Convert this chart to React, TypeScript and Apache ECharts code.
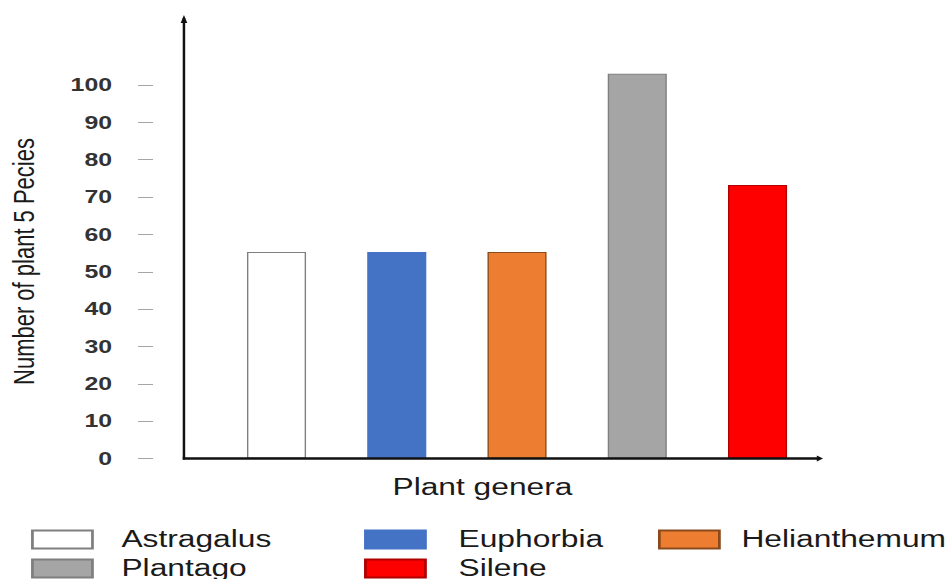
import React, { useEffect, useRef } from "react";
import * as echarts from "echarts";

// Plant genera and the number of species counted for each
const categories = ["Astragalus", "Euphorbia", "Helianthemum", "Plantago", "Silene"];
const speciesCounts = [55.3, 55.3, 55.3, 103, 73.2];
const fillColors = ["#ffffff", "#4472c4", "#ed7d31", "#a5a5a5", "#ff0000"];
const borderColors = ["#7f7f7f", "#4472c4", "#8c4a1c", "#7f7f7f", "#b00000"];
const yMax = 100;
const yInterval = 10;

// legend columns (indices into categories)
const legendColumns = [[0, 3], [1, 4], [2]];
const legendLefts = [22.5, 263.8, 476.8];
const legendTextPads = [16, 19, 11];

const CHART_W = 686;
const CHART_H = 579;
const STRETCH = 1.38;

export default function App() {
  const ref = useRef<HTMLDivElement>(null);

  useEffect(() => {
    if (!ref.current) return;
    const chart = echarts.init(ref.current, null, { renderer: "svg" });

    const series = categories.map((name, i) => ({
      name,
      type: "bar",
      stack: "genera",
      barWidth: 42.8,
      clip: false,
      itemStyle: {
        color: fillColors[i],
        borderColor: borderColors[i],
        borderWidth: 1,
      },
      data: categories.map((_, j) => (j === i ? speciesCounts[i] : "-")),
    }));

    const legends = legendColumns.map((col, k) => ({
      orient: "vertical",
      left: legendLefts[k],
      top: 528,
      width: 200,
      height: 120,
      padding: 0,
      itemWidth: 43.5,
      itemHeight: 18,
      itemGap: 6,
      icon: "rect",
      selectedMode: false,
      data: col.map((i) => categories[i]),
      textStyle: {
        fontFamily: "Liberation Sans, Arial, sans-serif",
        fontSize: 23,
        lineHeight: 18,
        color: "#1a1a1a",
        padding: [0, 0, 0, legendTextPads[k]],
      },
    }));

    const axisX = 133.3;
    const axisY = 458.5;
    const xEnd = 596.4;

    chart.setOption({
      animation: false,
      backgroundColor: "#ffffff",
      grid: { left: 156.8, right: 93.5, top: 85, bottom: CHART_H - axisY },
      xAxis: {
        type: "category",
        data: categories,
        axisLine: { show: false },
        axisTick: { show: false },
        axisLabel: { show: false },
        splitLine: { show: false },
      },
      yAxis: {
        type: "value",
        min: 0,
        max: yMax,
        interval: yInterval,
        offset: 45.9,
        axisLine: { show: false },
        axisTick: { show: true, length: 10.9, lineStyle: { color: "#a6a6a6", width: 1 } },
        axisLabel: {
          margin: 29.7,
          fontFamily: "Liberation Sans, Arial, sans-serif",
          fontSize: 18,
          fontWeight: "bold",
          color: "#333333",
        },
        splitLine: { show: false },
      },
      legend: legends,
      series,
      graphic: [
        {
          type: "line",
          shape: { x1: axisX, y1: 18, x2: axisX, y2: axisY + 1 },
          style: { stroke: "#111111", lineWidth: 1.8 },
          z: 10,
        },
        {
          type: "polygon",
          shape: { points: [[axisX - 2.4, 23], [axisX + 2.4, 23], [axisX, 15]] },
          style: { fill: "#111111" },
          z: 10,
        },
        {
          type: "line",
          shape: { x1: axisX - 0.9, y1: axisY, x2: xEnd - 3, y2: axisY },
          style: { stroke: "#111111", lineWidth: 2.5 },
          z: 10,
        },
        {
          type: "polygon",
          shape: { points: [[xEnd - 4.5, axisY - 3], [xEnd - 4.5, axisY + 3], [xEnd, axisY]] },
          style: { fill: "#111111" },
          z: 10,
        },
        {
          type: "text",
          x: 349.6,
          y: 487,
          style: {
            text: "Plant genera",
            fontFamily: "Liberation Sans, Arial, sans-serif",
            fontSize: 23,
            fill: "#1a1a1a",
            align: "center",
            verticalAlign: "middle",
          },
        },
        {
          type: "text",
          x: 17,
          y: 261.5,
          rotation: Math.PI / 2,
          style: {
            text: "Number of plant 5 Pecies",
            fontFamily: "Liberation Sans, Arial, sans-serif",
            fontSize: 22,
            fill: "#1a1a1a",
            align: "center",
            verticalAlign: "middle",
          },
        },
      ],
    });

    return () => chart.dispose();
  }, []);

  return (
    <div
      ref={ref}
      style={{
        position: "fixed",
        left: 0,
        top: 0,
        width: CHART_W,
        height: CHART_H,
        transform: `scaleX(${STRETCH})`,
        transformOrigin: "0 0",
      }}
    />
  );
}
